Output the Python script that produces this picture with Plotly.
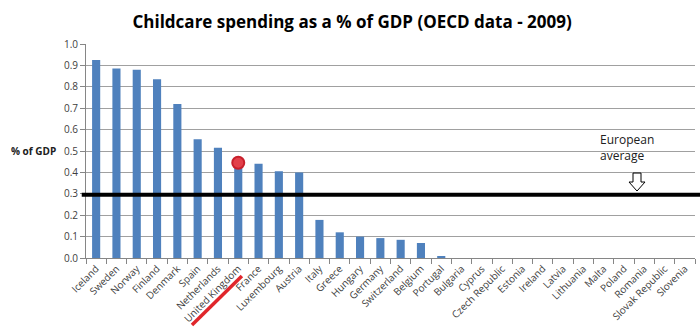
import plotly.graph_objects as go

countries = ["Iceland", "Sweden", "Norway", "Finland", "Denmark", "Spain", "Netherlands",
             "United Kingdom", "France", "Luxembourg", "Austria", "Italy", "Greece", "Hungary",
             "Germany", "Switzerland", "Belgium", "Portugal", "Bulgaria", "Cyprus",
             "Czech Republic", "Estonia", "Ireland", "Latvia", "Lithuania", "Malta", "Poland",
             "Romania", "Slovak Republic", "Slovenia"]
spending = [0.925, 0.885, 0.88, 0.835, 0.72, 0.555, 0.515, 0.43, 0.44, 0.405, 0.40, 0.178,
            0.12, 0.10, 0.093, 0.085, 0.07, 0.006, 0, 0, 0, 0, 0, 0, 0, 0, 0, 0, 0, 0]
european_average = 0.295
highlight_country = "United Kingdom"
highlight_value = 0.445
y_ticks = [0.0, 0.1, 0.2, 0.3, 0.4, 0.5, 0.6, 0.7, 0.8, 0.9, 1.0]

fig = go.Figure()
fig.add_trace(go.Bar(x=countries, y=spending, marker_color="#4F81BD", marker_line_width=0,
                     showlegend=False))
fig.add_trace(go.Scatter(x=[highlight_country], y=[highlight_value], mode="markers",
                         marker=dict(size=12, color="#e2404a",
                                     line=dict(color="#c8202c", width=2)),
                         showlegend=False))

# European average line
fig.add_shape(type="line", xref="paper", yref="y", x0=-0.007, x1=1.01,
              y0=european_average, y1=european_average,
              line=dict(color="black", width=4))
# red underline of United Kingdom label
fig.add_shape(type="line", xref="paper", yref="paper", x0=0.174, y0=-0.313, x1=0.256, y1=-0.084,
              line=dict(color="#e0262b", width=3.5))
# hollow down arrow
ax = (637 - 86) / 609.0
def px(dx):
    return ax + dx / 609.0
arrow_path = (f"M {px(-4)} 0.397 L {px(4)} 0.397 L {px(4)} 0.355 L {px(8)} 0.355 "
              f"L {px(0)} 0.313 L {px(-8)} 0.355 L {px(-4)} 0.355 Z")
fig.add_shape(type="path", xref="paper", yref="y", path=arrow_path,
              line=dict(color="black", width=1), fillcolor="white")

fig.add_annotation(text="European<br>average", xref="paper", yref="y", x=0.84, y=0.515,
                   xanchor="left", yanchor="middle", align="left", showarrow=False,
                   font=dict(family="Open Sans", size=12, color="#202020"))
fig.add_annotation(text="<b>% of GDP</b>", xref="paper", yref="paper", x=-0.127, y=0.5,
                   xanchor="left", yanchor="middle", showarrow=False,
                   font=dict(family="Open Sans", size=10, color="#202020"))

fig.update_layout(
    width=700, height=333,
    margin=dict(l=86, r=5, t=44, b=75),
    paper_bgcolor="white", plot_bgcolor="white",
    bargap=0.6,
    title=dict(text="<b>Childcare spending as a % of GDP (OECD data - 2009)</b>",
               x=0.503, xanchor="center", y=0.935, yanchor="middle",
               font=dict(family="Open Sans", size=17, color="black")),
    font=dict(family="Open Sans", size=10, color="#404040"),
)
fig.update_xaxes(type="category", tickangle=-45, showline=True, linecolor="#868686",
                 ticks="outside", tickson="boundaries", ticklen=5, tickcolor="#868686",
                 showgrid=False, tickfont=dict(size=10, color="#404040"))
fig.update_yaxes(range=[0, 1.0], tickvals=y_ticks, tickformat=".1f", showline=True,
                 linecolor="#868686", ticks="outside", ticklen=5, tickcolor="#868686",
                 showgrid=True, gridcolor="#a0a0a0", gridwidth=1, zeroline=False,
                 tickfont=dict(size=10, color="#404040"))

fig.write_html("out.html")
